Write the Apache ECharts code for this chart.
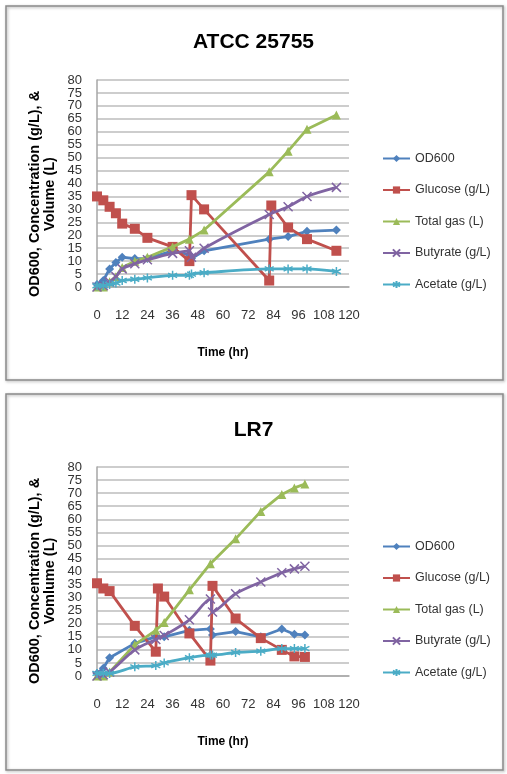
<!DOCTYPE html>
<html><head><meta charset="utf-8">
<script src="https://cdn.jsdelivr.net/npm/echarts@6/dist/echarts.min.js"></script>
<style>
html,body{margin:0;padding:0;background:#fff;width:507px;height:774px;overflow:hidden}
#c1{position:absolute;left:0;top:0;width:507px;height:387px}
#c2{position:absolute;left:0;top:387px;width:507px;height:387px}
</style>
</head><body><div id="c1"></div><div id="c2"></div>
<script>
// ---- data: top chart (ATCC 25755) ----
const titleTop = 'ATCC 25755';
const yNameTop = 'OD600, Concentration (g/L), &\nVolume (L)';
const timesTop    = [0, 3, 6, 9, 12, 18, 24, 36, 44, 45, 51, 82, 83, 91, 100, 114];
const od600Top    = [1, 2.5, 7, 9.5, 11.5, 11, 11, 14, 12.5, 11, 14, 18.5, null, 19.5, 21.5, 22];
const glucoseTop  = [35, 33.5, 31, 28.5, 24.5, 22.5, 19, 15.5, 10, 35.5, 30, 2.5, 31.5, 23, 18.5, 14];
const gasTop      = [0, 0, 2, 4, 7.5, 10, 11.5, 15.5, 18.5, null, 22, 44.5, null, 52.5, 61, 66.5];
const butyrateTop = [0, 0.5, 2, 4, 7, 9, 10.5, 13, 14, 11.5, 15, 28, null, 31, 35, 38.5];
const acetateTop  = [0.5, 0.5, 1, 1.5, 2.5, 3, 3.5, 4.5, 4.5, 5, 5.5, 7, null, 7, 7, 6];

// ---- data: bottom chart (LR7) ----
const titleBot = 'LR7';
const yNameBot = 'OD600, Concentration (g/L), &\nVomlume (L)';
const timesBot    = [0, 3, 6, 18, 28, 29, 32, 44, 54, 55, 66, 78, 88, 94, 99];
const od600Bot    = [1, 3, 7, 12.5, 15, null, 15, 17.5, 18, 15.7, 17, 15, 18, 16, 15.7];
const glucoseBot  = [35.5, 33.5, 32.5, 19.2, 9.3, 33.5, 30.4, 16.3, 5.9, 34.5, 22, 14.5, 10, 7.5, 7.3];
const gasBot      = [0, 0, 1.5, 12, 17.5, null, 20.5, 33, 43, null, 52.5, 63, 69.5, 72, 73.5];
const butyrateBot = [0, 0.5, 1.5, 10, 14, null, 15.5, 21.5, 29.5, 24.5, 31.5, 36, 39.5, 41, 42];
const acetateBot  = [1, 1, 1, 3.5, 4, null, 5, 7, 8, 8, 9, 9.5, 10.5, 10.5, 10.5];

const seriesNames = ['OD600', 'Glucose (g/L)', 'Total gas (L)', 'Butyrate (g/L)', 'Acetate (g/L)'];
const xAxisTitle = 'Time (hr)';
const xMin = 0, xMax = 120, xStep = 12;
const yMin = 0, yMax = 80, yStep = 5;

// ---- styles ----
const colors = ['#4F81BD', '#C0504D', '#9BBB59', '#8064A2', '#4BACC6'];
const symbols = [
  'diamond', 'rect', 'triangle',
  'path://M0,0L10,10M10,0L0,10',
  'path://M5,0L5,10M0,2.5L10,7.5M0,7.5L10,2.5'
];
const symbolSizes = [9, 10, 9, 9, 9];
const FONT = '"Liberation Sans", Arial, sans-serif';

function pairs(times, vals) {
  const out = [];
  times.forEach((t, i) => { if (vals[i] !== null) out.push([t, vals[i]]); });
  return out;
}

function buildOption(title, yName, times, valueSets) {
  const series = valueSets.map((vals, k) => {
    const strokeOnly = k >= 3;
    return {
      name: seriesNames[k],
      type: 'line',
      data: pairs(times, vals),
      symbol: symbols[k],
      symbolSize: symbolSizes[k],
      smooth: k >= 3 ? 0.3 : false,
      lineStyle: { color: colors[k], width: 2.8 },
      itemStyle: strokeOnly
        ? { color: 'rgba(0,0,0,0)', borderColor: colors[k], borderWidth: 1.5 }
        : { color: colors[k], borderWidth: 0 },
      emphasis: { disabled: true },
      z: 2 + k
    };
  });
  return {
    animation: false,
    backgroundColor: '#fff',
    title: {
      text: title, left: 'center', top: 27,
      textStyle: { fontFamily: FONT, fontSize: 21, fontWeight: 'bold', color: '#000' }
    },
    graphic: [
      { type: 'rect', shape: { x: 6, y: 6, width: 497, height: 374 },
        style: { fill: 'none', stroke: '#8a8a8a', lineWidth: 1.5,
                 shadowBlur: 3, shadowColor: 'rgba(0,0,0,0.35)', shadowOffsetX: 1, shadowOffsetY: 1 }, z: -1 },
      { type: 'text', x: 42, y: 194, rotation: Math.PI / 2,
        style: { text: yName, fontFamily: FONT, fontSize: 14.5, fontWeight: 'bold', fill: '#000',
                 align: 'center', verticalAlign: 'middle', lineHeight: 15 } }
    ],
    legend: {
      orient: 'vertical', left: 382, top: 152, itemGap: 18.5, padding: 0,
      itemWidth: 27, itemHeight: 9,
      textStyle: { fontFamily: FONT, fontSize: 12.5, color: '#333' },
      data: seriesNames
    },
    grid: { left: 97, right: 158, top: 80, bottom: 100 },
    xAxis: {
      type: 'value', min: xMin, max: xMax, interval: xStep,
      name: xAxisTitle, nameLocation: 'middle', nameGap: 60,
      nameTextStyle: { fontFamily: FONT, fontSize: 12, fontWeight: 'bold', color: '#000', verticalAlign: 'top' },
      axisLine: { show: true, lineStyle: { color: '#a6a6a6', width: 1.5 } },
      axisTick: { show: false },
      splitLine: { show: false },
      axisLabel: { margin: 22, fontFamily: FONT, fontSize: 13, color: '#333' }
    },
    yAxis: {
      type: 'value', min: yMin, max: yMax, interval: yStep,
      axisLine: { show: true, lineStyle: { color: '#a6a6a6', width: 1.5 } },
      axisTick: { show: false },
      splitLine: { show: true, lineStyle: { color: '#bdbdbd', width: 1.5 } },
      axisLabel: { margin: 15, fontFamily: FONT, fontSize: 13, color: '#333' }
    },
    series: series
  };
}

const c1 = echarts.init(document.getElementById('c1'), null, { renderer: 'canvas' });
c1.setOption(buildOption(titleTop, yNameTop, timesTop,
  [od600Top, glucoseTop, gasTop, butyrateTop, acetateTop]));

const c2 = echarts.init(document.getElementById('c2'), null, { renderer: 'canvas' });
const opt2 = buildOption(titleBot, yNameBot, timesBot,
  [od600Bot, glucoseBot, gasBot, butyrateBot, acetateBot]);
opt2.graphic[0].shape = { x: 6, y: 7, width: 497, height: 376 };
opt2.title.top = 28;
opt2.grid = { left: 97, right: 158, top: 80, bottom: 98 };
opt2.legend.top = 153;
c2.setOption(opt2);
</script>
</body></html>
